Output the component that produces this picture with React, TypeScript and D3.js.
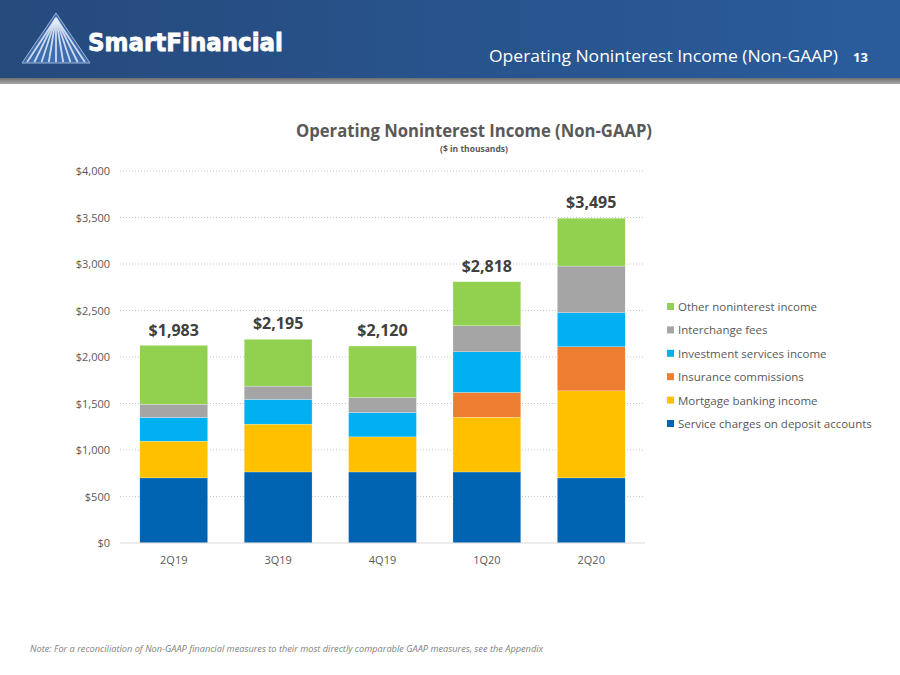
import React, { useEffect, useRef } from 'react';
import * as d3 from 'd3';

// chart data (values in $ thousands)
const quarters = ['2Q19', '3Q19', '4Q19', '1Q20', '2Q20'];
const serviceCharges = [700, 764, 764, 764, 700];
const mortgageBanking = [395, 514, 377, 589, 936];
const insuranceCommissions = [0, 0, 0, 266, 474];
const investmentServices = [255, 266, 263, 437, 366];
const interchangeFees = [143, 143, 161, 280, 502];
const otherIncome = [632, 503, 553, 474, 514];
const totalLabels = ['$1,983', '$2,195', '$2,120', '$2,818', '$3,495'];
const yTicks = [0, 500, 1000, 1500, 2000, 2500, 3000, 3500, 4000];

const seriesNames = [
  'Service charges on deposit accounts',
  'Mortgage banking income',
  'Insurance commissions',
  'Investment services income',
  'Interchange fees',
  'Other noninterest income',
];
const seriesColors = ['#0063b1', '#ffc000', '#ed7d31', '#00b0f0', '#a5a5a5', '#92d050'];

export default function App() {
  const ref = useRef(null);

  useEffect(() => {
    const svg = d3.select(ref.current);
    svg.selectAll('*').remove();

    const W = 900, H = 675;
    const font = "'Open Sans', sans-serif";

    // header
    const defs = svg.append('defs');
    const hg = defs.append('linearGradient').attr('id', 'hdr').attr('x1', 0).attr('x2', 1);
    hg.append('stop').attr('offset', '0%').attr('stop-color', '#264a7c');
    hg.append('stop').attr('offset', '100%').attr('stop-color', '#2a5c9c');
    const gg = defs.append('linearGradient').attr('id', 'gbar').attr('x1', 0).attr('x2', 0).attr('y1', 0).attr('y2', 1);
    gg.append('stop').attr('offset', '0%').attr('stop-color', '#6e6e6e');
    gg.append('stop').attr('offset', '100%').attr('stop-color', '#a8a8a8');

    svg.append('rect').attr('width', W).attr('height', H).attr('fill', '#fff');
    svg.append('rect').attr('width', W).attr('height', 78).attr('fill', 'url(#hdr)');
    svg.append('rect').attr('y', 78).attr('width', W).attr('height', 6).attr('fill', 'url(#gbar)');

    // logo triangle
    const logo = svg.append('g');
    logo.append('path').attr('d', 'M56,13 L90,63 L22,63 Z').attr('fill', '#3d6db0').attr('stroke', '#9fb6d6').attr('stroke-width', 1);
    d3.range(-4, 5).forEach(i => {
      logo.append('line')
        .attr('x1', 56).attr('y1', 18)
        .attr('x2', 56 + i * 7.2).attr('y2', 62)
        .attr('stroke', '#e8eef8').attr('stroke-width', 1.8).attr('opacity', 0.85);
    });
    svg.append('text').attr('x', 88).attr('y', 51)
      .attr('font-family', "'DejaVu Sans', sans-serif").attr('font-weight', 'bold')
      .attr('font-size', 24).attr('fill', '#fff').attr('stroke', '#fff').attr('stroke-width', 0.8)
      .attr('textLength', 195).attr('lengthAdjust', 'spacingAndGlyphs').text('SmartFinancial');

    svg.append('text').attr('x', 838).attr('y', 62).attr('text-anchor', 'end')
      .attr('font-family', font).attr('font-size', 16).attr('fill', '#fff')
      .attr('textLength', 349).attr('lengthAdjust', 'spacingAndGlyphs')
      .text('Operating Noninterest Income (Non-GAAP)');
    svg.append('text').attr('x', 853).attr('y', 62)
      .attr('font-family', font).attr('font-size', 13).attr('font-weight', 'bold').attr('fill', '#fff')
      .text('13');

    // chart titles
    svg.append('text').attr('x', 474).attr('y', 137).attr('text-anchor', 'middle')
      .attr('font-family', font).attr('font-weight', 'bold').attr('font-size', 17).attr('fill', '#595959')
      .attr('textLength', 356).attr('lengthAdjust', 'spacingAndGlyphs')
      .text('Operating Noninterest Income (Non-GAAP)');
    svg.append('text').attr('x', 474).attr('y', 152).attr('text-anchor', 'middle')
      .attr('font-family', font).attr('font-weight', 'bold').attr('font-size', 8.5).attr('fill', '#595959')
      .text('($ in thousands)');

    // scales
    const x = d3.scaleBand().domain(quarters).range([120, 645]).paddingInner(0.35).paddingOuter(0.19);
    const y = d3.scaleLinear().domain([0, 4000]).range([543, 171]);

    // gridlines
    svg.append('g').selectAll('line').data(yTicks.slice(1)).join('line')
      .attr('x1', 120).attr('x2', 645)
      .attr('y1', d => y(d)).attr('y2', d => y(d))
      .attr('stroke', '#c8c8c8').attr('stroke-width', 1).attr('stroke-dasharray', '1,2');

    // y tick labels
    svg.append('g').selectAll('text').data(yTicks).join('text')
      .attr('x', 110).attr('y', d => y(d) + 4).attr('text-anchor', 'end')
      .attr('font-family', font).attr('font-size', 11).attr('fill', '#595959')
      .text(d => '$' + d3.format(',')(d));

    // stacked bars
    const table = quarters.map((q, i) => ({
      q,
      s0: serviceCharges[i], s1: mortgageBanking[i], s2: insuranceCommissions[i],
      s3: investmentServices[i], s4: interchangeFees[i], s5: otherIncome[i],
    }));
    const keys = ['s0', 's1', 's2', 's3', 's4', 's5'];
    const stacked = d3.stack().keys(keys)(table);

    svg.append('g').selectAll('g').data(stacked).join('g')
      .attr('fill', (d, i) => seriesColors[i])
      .selectAll('rect').data(d => d.filter(p => p[1] > p[0])).join('rect')
      .attr('x', d => x(d.data.q))
      .attr('width', x.bandwidth())
      .attr('y', d => y(d[1]))
      .attr('height', d => y(d[0]) - y(d[1]))
      .attr('stroke', '#ffffff').attr('stroke-width', 0.4).attr('stroke-opacity', 0.6);

    // axis baseline
    svg.append('line').attr('x1', 120).attr('x2', 645).attr('y1', y(0)).attr('y2', y(0))
      .attr('stroke', '#d9d9d9').attr('stroke-width', 1);

    // x labels
    svg.append('g').selectAll('text').data(quarters).join('text')
      .attr('x', d => x(d) + x.bandwidth() / 2).attr('y', 564).attr('text-anchor', 'middle')
      .attr('font-family', font).attr('font-size', 11).attr('fill', '#595959')
      .text(d => d);

    // totals above bars
    const tops = stacked[stacked.length - 1];
    svg.append('g').selectAll('text').data(tops).join('text')
      .attr('x', d => x(d.data.q) + x.bandwidth() / 2)
      .attr('y', (d, i) => y(d[1]) - (i === 0 ? 9 : 10))
      .attr('text-anchor', 'middle')
      .attr('font-family', font).attr('font-weight', 'bold').attr('font-size', 16).attr('fill', '#404040')
      .text((d, i) => totalLabels[i]);

    // legend (reverse order, top = Other)
    const legendItems = seriesNames.map((n, i) => ({ n, c: seriesColors[i] })).reverse();
    const lg = svg.append('g').selectAll('g').data(legendItems).join('g')
      .attr('transform', (d, i) => `translate(667,${307 + i * 23.4})`);
    lg.append('rect').attr('x', 0).attr('y', -4).attr('width', 7).attr('height', 7).attr('fill', d => d.c);
    lg.append('text').attr('x', 11).attr('y', 4)
      .attr('font-family', font).attr('font-size', 11.5).attr('fill', '#595959')
      .text(d => d.n);

    // footnote
    svg.append('text').attr('x', 30).attr('y', 652)
      .attr('font-family', font).attr('font-style', 'italic').attr('font-size', 8.5).attr('fill', '#7f7f7f')
      .attr('textLength', 513).attr('lengthAdjust', 'spacingAndGlyphs')
      .text('Note: For a reconciliation of Non-GAAP financial measures to their most directly comparable GAAP measures, see the Appendix');
  }, []);

  return (
    <svg ref={ref} width={900} height={675} style={{ position: 'absolute', left: 0, top: 0 }} />
  );
}
